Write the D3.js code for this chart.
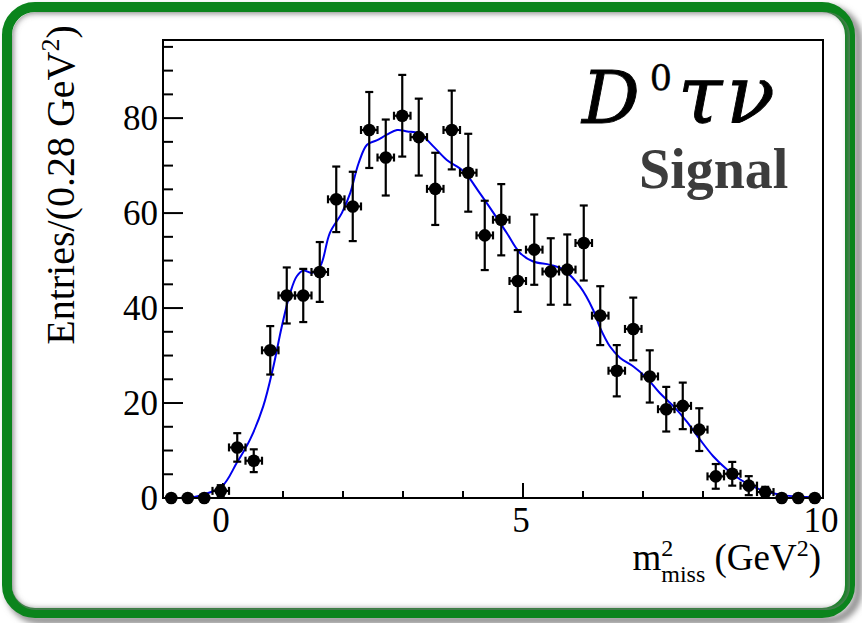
<!DOCTYPE html>
<html><head><meta charset="utf-8">
<script src="https://cdn.jsdelivr.net/npm/d3@7"></script>
<style>body{margin:0;background:#fff}svg{display:block}</style>
</head><body><svg id="c" width="862" height="623"></svg>
<script>
// ---- data ----
const binCenters = [-0.8625,-0.5875,-0.3125,-0.0375,0.2375,0.5125,0.7875,1.0625,1.3375,1.6125,
  1.8875,2.1625,2.4375,2.7125,2.9875,3.2625,3.5375,3.8125,4.0875,4.3625,
  4.6375,4.9125,5.1875,5.4625,5.7375,6.0125,6.2875,6.5625,6.8375,7.1125,
  7.3875,7.6625,7.9375,8.2125,8.4875,8.7625,9.0375,9.3125,9.5875,9.8625];
const binHalfWidth = 0.1375;
const entries = [0,0,0,1.5,10.65,7.85,31.1,42.65,42.65,47.6,
  62.9,61.4,77.5,71.7,80.5,76.0,65.1,77.5,68.5,55.3,
  58.6,45.7,52.3,47.7,48.1,53.7,38.4,26.8,35.6,25.6,
  18.7,19.4,14.4,4.55,5.1,2.6,1.25,0,0,0];
const errors = [0,0,0,1.2,3.0,2.4,5.1,5.9,5.6,6.3,
  6.9,7.3,8.0,8.0,8.6,8.1,7.6,8.3,8.2,7.3,
  7.5,6.5,7.4,7.0,7.4,7.9,6.2,5.4,6.6,5.5,
  4.7,4.9,4.5,2.6,2.5,2.0,1.1,0,0,0];
const fitX = [-1.0,-0.5,-0.33,-0.02,0.23,0.45,0.67,0.84,0.98,1.12,1.23,1.34,1.48,1.62,1.78,1.98,2.12,2.26,2.40,2.56,2.73,2.90,3.07,3.28,3.51,3.73,4.01,4.28,4.51,4.73,4.95,5.17,5.45,5.67,5.95,6.17,6.28,6.45,6.62,6.84,7.06,7.28,7.51,7.73,7.95,8.17,8.40,8.62,8.84,9.06,9.39,9.73,10.0];
const fitY = [0,0.15,0.7,2.4,7.4,12.3,19.3,27.7,36.1,43.2,46.7,47.9,47.4,48.8,55.8,60.0,64.2,70.5,74.4,75.3,76.5,77.5,77.2,76.7,74.0,71.2,68.8,64.2,60.0,55.8,51.6,49.8,49.1,48.1,44.5,39.6,36.0,31.9,29.5,27.7,25.3,22.1,19.3,16.1,12.3,8.8,6.0,3.9,2.4,1.3,0.5,0.2,0];
const xMajorTicks = [0,5,10];
const xMinorTicks = [-1,1,2,3,4,6,7,8,9];
const yMajorTicks = [0,20,40,60,80];
const yMinorTicks = [5,10,15,25,30,35,45,50,55,65,70,75,85,90,95];

// ---- layout ----
const svg = d3.select("#c");
const L = 163, R = 823, T = 40, B = 498;
const x = d3.scaleLinear().domain([-1, 10]).range([L, R]);
const y = d3.scaleLinear().domain([0, 96.45]).range([B, T]);
const serif = "'Liberation Serif','Times New Roman',serif";
const mathSerif = "'DejaVu Serif',serif";

// ---- frame decoration ----
const defs = svg.append("defs");
const sh = defs.append("filter").attr("id","sh").attr("x","-10%").attr("y","-10%").attr("width","120%").attr("height","120%");
sh.append("feGaussianBlur").attr("stdDeviation",3);
const clip = defs.append("clipPath").attr("id","inner");
clip.append("rect").attr("x",12).attr("y",12).attr("width",838).attr("height",598).attr("rx",24);

svg.append("rect").attr("x",10).attr("y",10).attr("width",848).attr("height",610).attr("rx",30)
  .attr("fill","none").attr("stroke","#888").attr("stroke-width",8).attr("filter","url(#sh)");
svg.append("rect").attr("x",7).attr("y",7).attr("width",843).attr("height",606).attr("rx",28)
  .attr("fill","#fff").attr("stroke","#0b841c").attr("stroke-width",10);
svg.append("g").attr("clip-path","url(#inner)")
  .append("rect").attr("x",8).attr("y",8).attr("width",846).attr("height",606).attr("rx",26)
  .attr("fill","none").attr("stroke","#777").attr("stroke-width",10).attr("filter","url(#sh)");

// ---- axes ----
const ax = svg.append("g").attr("stroke","#000").attr("stroke-width",2);
ax.selectAll(".ymaj").data(yMajorTicks).join("line")
  .attr("x1",L).attr("x2",L+20).attr("y1",d=>y(d)).attr("y2",d=>y(d));
ax.selectAll(".ymin").data(yMinorTicks).join("line")
  .attr("x1",L).attr("x2",L+10).attr("y1",d=>y(d)).attr("y2",d=>y(d));
ax.selectAll(".xmaj").data(xMajorTicks).join("line")
  .attr("x1",d=>x(d)).attr("x2",d=>x(d)).attr("y1",B).attr("y2",B-15);
ax.selectAll(".xmin").data(xMinorTicks).join("line")
  .attr("x1",d=>x(d)).attr("x2",d=>x(d)).attr("y1",B).attr("y2",B-7);

svg.selectAll(".ylab").data(yMajorTicks).join("text")
  .attr("x",L-5).attr("y",d=>y(d)+12).attr("text-anchor","end")
  .attr("font-family",serif).attr("font-size",35).text(d=>d);
svg.selectAll(".xlab").data(xMajorTicks).join("text")
  .attr("x",d=>x(d)-2).attr("y",B+34).attr("text-anchor","middle")
  .attr("font-family",serif).attr("font-size",35).text(d=>d);

// ---- fit curve ----
const line = d3.line().x((d,i)=>x(fitX[i])).y(d=>y(d)).curve(d3.curveCatmullRom);
svg.append("path").attr("d", line(fitY)).attr("fill","none").attr("stroke","#0000ee").attr("stroke-width",2);

// ---- data points ----
const pts = svg.append("g").attr("stroke","#000").attr("stroke-width",2.2);
entries.forEach((v,i)=>{
  const cx = x(binCenters[i]), cy = y(v);
  const g = pts.append("g");
  if (errors[i] > 0) {
    const y1 = y(v+errors[i]), y2 = y(v-errors[i]);
    g.append("line").attr("x1",cx).attr("x2",cx).attr("y1",y1).attr("y2",y2);
    g.append("line").attr("x1",cx-4).attr("x2",cx+4).attr("y1",y1).attr("y2",y1);
    g.append("line").attr("x1",cx-4).attr("x2",cx+4).attr("y1",y2).attr("y2",y2);
    const xl = x(binCenters[i]-binHalfWidth), xr = x(binCenters[i]+binHalfWidth);
    g.append("line").attr("x1",xl).attr("x2",xr).attr("y1",cy).attr("y2",cy);
    g.append("line").attr("x1",xl).attr("x2",xl).attr("y1",cy-4).attr("y2",cy+4);
    g.append("line").attr("x1",xr).attr("x2",xr).attr("y1",cy-4).attr("y2",cy+4);
  }
  g.append("circle").attr("cx",cx).attr("cy",cy).attr("r",6.3).attr("fill","#000").attr("stroke","none");
});

svg.append("rect").attr("x",L).attr("y",T).attr("width",R-L).attr("height",B-T)
  .attr("fill","none").attr("stroke","#000").attr("stroke-width",2);

// ---- titles ----
const yt = svg.append("text").attr("transform","translate(74,185) rotate(-90)")
  .attr("text-anchor","middle").attr("font-family",serif).attr("font-size",40);
yt.append("tspan").text("Entries/(0.28 GeV");
yt.append("tspan").attr("font-size",26).attr("dy",-15).text("2");
yt.append("tspan").attr("dy",15).text(")");

const xt = svg.append("text").attr("x",821).attr("y",570).attr("text-anchor","end")
  .attr("font-family",serif).attr("font-size",37);
xt.append("tspan").text("m");
xt.append("tspan").attr("font-size",24).attr("dy",-14).text("2");
xt.append("tspan").attr("font-size",24).attr("dx",-12).attr("dy",26).text("miss");
xt.append("tspan").attr("dy",-12).text(" (GeV");
xt.append("tspan").attr("font-size",24).attr("dy",-14).text("2");
xt.append("tspan").attr("dy",14).text(")");

const tt = svg.append("text").attr("x",582).attr("y",123).attr("font-family",mathSerif)
  .attr("font-style","italic").attr("font-size",72).attr("stroke","#000").attr("stroke-width",0.9);
tt.append("tspan").text("D");
tt.append("tspan").attr("font-style","normal").attr("font-size",35).attr("stroke-width",0.4)
  .attr("dy",-33).attr("dx",10).text("0");
tt.append("tspan").attr("dy",33).attr("dx",6).attr("font-size",80).attr("letter-spacing",4).text("τν");

svg.append("text").attr("x",639).attr("y",188).attr("font-family",serif).attr("font-weight","bold")
  .attr("font-size",56).attr("fill","#3c3c3c").text("Signal");
</script></body></html>
